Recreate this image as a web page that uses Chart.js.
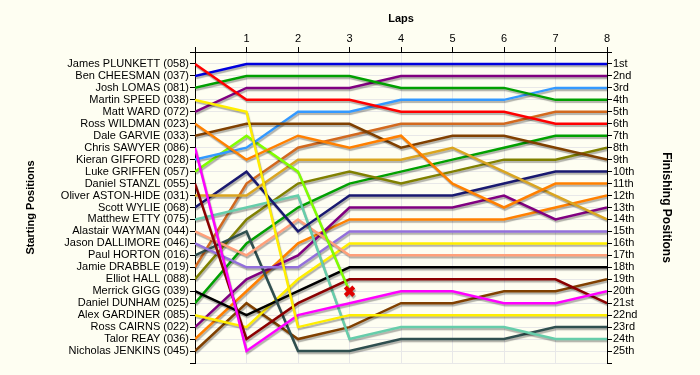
<!DOCTYPE html>
<html>
<head>
<meta charset="utf-8">
<script src="https://cdn.jsdelivr.net/npm/chart.js@4"></script>
<style>
  body { margin: 0; background: #FEFEF2; }
  #lapChart { display: block; }
</style>
</head>
<body>
<canvas id="lapChart" width="700" height="375" style="width:700px;height:375px"></canvas>
<script>
const laps = [0, 1, 2, 3, 4, 5, 6, 7, 8];

const startNames = ['James PLUNKETT (058)', 'Ben CHEESMAN (037)', 'Josh LOMAS (081)', 'Martin SPEED (038)',
  'Matt WARD (072)', 'Ross WILDMAN (023)', 'Dale GARVIE (033)', 'Chris SAWYER (086)', 'Kieran GIFFORD (028)',
  'Luke GRIFFEN (057)', 'Daniel STANZL (055)', 'Oliver ASTON-HIDE (031)', 'Scott WYLIE (068)', 'Matthew ETTY (075)',
  'Alastair WAYMAN (044)', 'Jason DALLIMORE (046)', 'Paul HORTON (016)', 'Jamie DRABBLE (019)', 'Elliot HALL (088)',
  'Merrick GIGG (039)', 'Daniel DUNHAM (025)', 'Alex GARDINER (085)', 'Ross CAIRNS (022)', 'Talor REAY (036)',
  'Nicholas JENKINS (045)'];

const finishLabels = ['1st', '2nd', '3rd', '4th', '5th', '6th', '7th', '8th', '9th', '10th', '11th', '12th', '13th',
  '14th', '15th', '16th', '17th', '18th', '19th', '20th', '21st', '22nd', '23rd', '24th', '25th'];

// position of each driver at lap 0..8 (null = retired)
const plunkett  = [1, 4, 4, 4, 5, 5, 5, 6, 6];
const cheesman  = [2, 1, 1, 1, 1, 1, 1, 1, 1];
const lomas     = [3, 2, 2, 2, 3, 3, 3, 4, 4];
const speed     = [4, 5, 23, 22, 22, 22, 22, 22, 22];
const ward      = [5, 3, 3, 3, 2, 2, 2, 2, 2];
const wildman   = [6, 9, 7, 8, 7, 11, 13, 11, 11];
const garvie    = [7, 6, 6, 6, 8, 7, 7, 8, 9];
const sawyer    = [8, 25, 22, 21, 20, 20, 21, 21, 20];
const gifford   = [9, 8, 5, 5, 4, 4, 4, 3, 3];
const griffen   = [10, 7, 10, 20, null, null, null, null, null];
const stanzl    = [11, 24, 21, 19, 19, 19, 19, 19, 21];
const astonHide = [12, 12, 9, 9, 9, 8, 10, 12, 14];
const wylie     = [13, 10, 15, 12, 12, 12, 11, 10, 10];
const etty      = [14, 13, 12, 24, 23, 23, 23, 24, 24];
const wayman    = [15, 17, 14, 17, 17, 17, 17, 17, 17];
const dallimore = [16, 18, 18, 15, 15, 15, 15, 15, 15];
const horton    = [17, 15, 25, 25, 24, 24, 24, 23, 23];
const drabble   = [18, 11, 8, 7, 6, 6, 6, 5, 5];
const hall      = [19, 14, 11, 10, 11, 10, 9, 9, 8];
const gigg      = [20, 22, 20, 18, 18, 18, 18, 18, 18];
const dunham    = [21, 16, 13, 11, 10, 9, 8, 7, 7];
const gardiner  = [22, 23, 19, 16, 16, 16, 16, 16, 16];
const cairns    = [23, 19, 17, 13, 13, 13, 12, 14, 13];
const reay      = [24, 20, 16, 14, 14, 14, 14, 13, 12];
const jenkins   = [25, 21, 24, 23, 21, 21, 20, 20, 19];

const positions = [plunkett, cheesman, lomas, speed, ward, wildman, garvie, sawyer, gifford, griffen,
  stanzl, astonHide, wylie, etty, wayman, dallimore, horton, drabble, hall, gigg, dunham, gardiner,
  cairns, reay, jenkins];

const colors = ['#FF0000', '#0000DD', '#00A000', '#FFEE00', '#800080', '#FF8000', '#804000', '#FF00FF',
  '#3399FF', '#80FF00', '#8B0000', '#DAA520', '#191970', '#66CDAA', '#FFA07A', '#9370DB', '#2F4F4F',
  '#D2691E', '#808000', '#000000', '#00A000', '#FFEE00', '#800080', '#FF8000', '#804000'];

const datasets = positions.map((pos, i) => {
  const last = pos.findLastIndex(v => v !== null);
  const retired = last < laps.length - 1;
  return {
    label: startNames[i],
    data: laps.map((lap, j) => ({ x: lap, y: pos[j] })),
    borderColor: colors[i],
    borderWidth: 2.5,
    tension: 0,
    pointRadius: pos.map((v, j) => (retired && j === last) ? 6 : 0),
    pointStyle: 'crossRot',
    pointBorderColor: '#E00000',
    pointBorderWidth: 4,
    pointBackgroundColor: '#E00000'
  };
});

const lineShadow = {
  id: 'lineShadow',
  beforeDatasetDraw(chart) {
    const c = chart.ctx;
    c.save();
    c.shadowColor = 'rgba(0,0,0,0.3)';
    c.shadowOffsetX = 1;
    c.shadowOffsetY = 2;
    c.shadowBlur = 1;
  },
  afterDatasetDraw(chart) {
    chart.ctx.restore();
  }
};

const tickFont = { family: "'Liberation Sans', Arial, sans-serif", size: 11 };
const titleFont = { family: "'Liberation Sans', Arial, sans-serif", size: 11, weight: 'bold' };

new Chart(document.getElementById('lapChart').getContext('2d'), {
  type: 'line',
  data: { datasets: datasets },
  plugins: [lineShadow],
  options: {
    responsive: false,
    animation: false,
    layout: { padding: { left: 0, right: 0, top: 0, bottom: 12 } },
    plugins: {
      legend: { display: false },
      tooltip: { enabled: false }
    },
    scales: {
      x: {
        type: 'linear',
        position: 'top',
        min: 0,
        max: 8,
        afterFit(scale) { scale.height = 52; },
        ticks: {
          stepSize: 1,
          color: '#000',
          font: tickFont,
          padding: 1,
          callback: v => v === 0 ? '' : v
        },
        grid: { color: '#E8E8E8', tickColor: '#000', tickLength: 5 },
        border: { color: '#000' },
        title: { display: true, text: 'Laps', color: '#000', font: titleFont, padding: { top: 12, bottom: 0 } }
      },
      y: {
        type: 'linear',
        position: 'left',
        reverse: true,
        min: 0,
        max: 26,
        afterFit(scale) { scale.width = 195; },
        ticks: {
          stepSize: 1,
          autoSkip: false,
          color: '#000',
          font: tickFont,
          padding: 1,
          callback: v => startNames[v - 1] || ''
        },
        grid: { color: '#E8E8E8', tickColor: '#000', tickLength: 5 },
        border: { color: '#000' },
        title: { display: true, text: 'Starting Positions', color: '#000', font: titleFont, padding: { top: 24, bottom: 0 } }
      },
      y2: {
        type: 'linear',
        position: 'right',
        reverse: true,
        min: 0,
        max: 26,
        afterFit(scale) { scale.width = 93; },
        ticks: {
          stepSize: 1,
          autoSkip: false,
          color: '#000',
          font: tickFont,
          padding: 1,
          callback: v => finishLabels[v - 1] || ''
        },
        grid: { drawOnChartArea: false, color: '#000', tickLength: 5 },
        border: { color: '#000' },
        title: { display: true, text: 'Finishing Positions', color: '#000', font: { family: "'Liberation Sans', Arial, sans-serif", size: 12, weight: 'bold' }, padding: { top: 26, bottom: 0 } }
      }
    }
  }
});
</script>
</body>
</html>
